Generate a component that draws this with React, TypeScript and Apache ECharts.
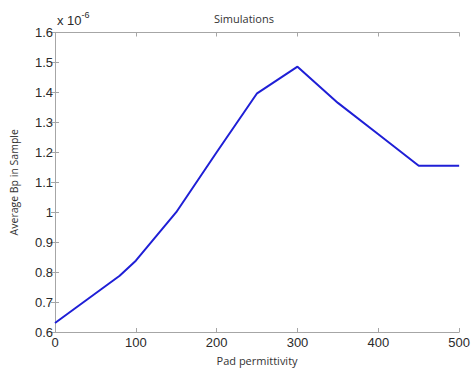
import React, { useEffect, useRef } from "react";
import * as echarts from "echarts";

const permittivity = [0, 80, 100, 150, 200, 250, 300, 350, 400, 450, 500];
const avgBp = [0.63, 0.788, 0.838, 1.0, 1.2, 1.397, 1.486, 1.365, 1.26, 1.155, 1.155];
const titleText = "Simulations";
const xName = "Pad permittivity";
const yName = "Average Bp in Sample";

export default function App() {
  const ref = useRef<HTMLDivElement>(null);
  useEffect(() => {
    if (!ref.current) return;
    const chart = echarts.init(ref.current, null, { renderer: "svg" });
    const axisGray = "#a6a6a6";
    const labelColor = "#2a2a2a";
    const tickFont = "'Liberation Sans', Arial, sans-serif";
    const textFont = "'Open Sans', 'Noto Sans', sans-serif";
    const data = permittivity.map((x, i) => [x, avgBp[i]]);
    chart.setOption({
      animation: false,
      backgroundColor: "#ffffff",
      title: {
        text: titleText,
        left: 209,
        top: 8,
        textStyle: { fontFamily: textFont, fontSize: 11, fontWeight: "normal", color: "#333" },
      },
      grid: { left: 55, right: 11, top: 32.5, bottom: 36 },
      graphic: [
        {
          type: "text",
          left: 57,
          top: 10,
          style: {
            text: "{a|x 10}{b|-6}",
            rich: {
              a: { fontFamily: tickFont, fontSize: 13, fill: labelColor, verticalAlign: "bottom", lineHeight: 17 },
              b: { fontFamily: tickFont, fontSize: 9, fill: labelColor, verticalAlign: "top", lineHeight: 10 },
            },
          },
        },
      ],
      xAxis: [
        {
          type: "value",
          min: 0,
          max: 500,
          interval: 100,
          name: xName,
          nameLocation: "middle",
          nameGap: 23,
          nameTextStyle: { fontFamily: textFont, fontSize: 11, color: "#333" },
          axisLine: { show: true, lineStyle: { color: axisGray, width: 1 } },
          axisTick: { show: true, inside: true, length: 4, lineStyle: { color: axisGray } },
          axisLabel: { fontFamily: tickFont, fontSize: 13, color: labelColor, margin: 4 },
          splitLine: { show: false },
        },
        {
          type: "value",
          position: "top",
          min: 0,
          max: 500,
          interval: 100,
          axisLine: { show: true, lineStyle: { color: axisGray, width: 1 } },
          axisTick: { show: true, inside: true, length: 4, lineStyle: { color: axisGray } },
          axisLabel: { show: false },
          splitLine: { show: false },
        },
      ],
      yAxis: [
        {
          type: "value",
          min: 0.6,
          max: 1.6,
          interval: 0.1,
          name: yName,
          nameLocation: "middle",
          nameGap: 36,
          nameTextStyle: { fontFamily: textFont, fontSize: 10.5, color: "#333" },
          axisLine: { show: true, lineStyle: { color: axisGray, width: 1 } },
          axisTick: { show: true, inside: true, length: 4, lineStyle: { color: axisGray } },
          axisLabel: {
            fontFamily: tickFont,
            fontSize: 13,
            color: labelColor,
            margin: 2,
            formatter: (v: number) => String(Math.round(v * 10) / 10),
          },
          splitLine: { show: false },
        },
        {
          type: "value",
          position: "right",
          min: 0.6,
          max: 1.6,
          interval: 0.1,
          axisLine: { show: true, lineStyle: { color: axisGray, width: 1 } },
          axisTick: { show: true, inside: true, length: 4, lineStyle: { color: axisGray } },
          axisLabel: { show: false },
          splitLine: { show: false },
        },
      ],
      series: [
        {
          type: "line",
          data,
          xAxisIndex: 0,
          yAxisIndex: 0,
          showSymbol: false,
          symbol: "none",
          lineStyle: { color: "#1f1fd6", width: 2 },
        },
      ],
    });
    return () => chart.dispose();
  }, []);
  return (
    <div
      ref={ref}
      style={{ position: "fixed", left: 0, top: 0, width: 473, height: 371, background: "#fff" }}
    />
  );
}
